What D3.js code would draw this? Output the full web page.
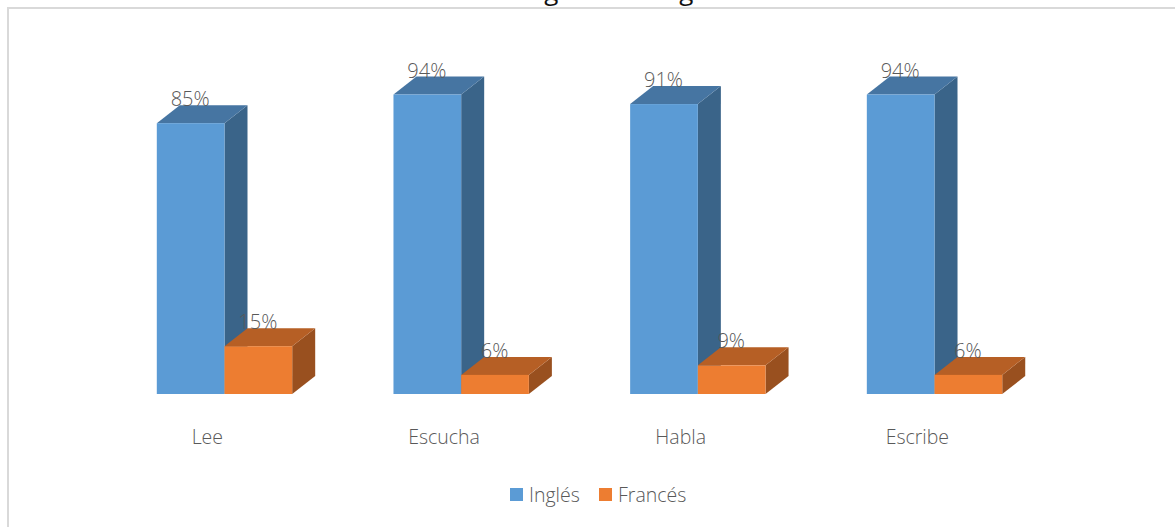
<!DOCTYPE html>
<html>
<head>
<meta charset="utf-8">
<script src="https://cdnjs.cloudflare.com/ajax/libs/d3/7.8.5/d3.min.js"></script>
<style>
  html, body { margin: 0; padding: 0; background: #fff; overflow: hidden; }
  text { font-family: "Open Sans", sans-serif; font-weight: 300; }
</style>
</head>
<body>
<svg id="chart" width="1175" height="527"></svg>
<script>
let categories = ["Lee", "Escucha", "Habla", "Escribe"];
let seriesNames = ["Inglés", "Francés"];
let ingles = [85, 94, 91, 94];
let frances = [15, 6, 9, 6];
// only the bottom of the title shows in the source, so the wording is a guess
let titleText = "Dominio general lengua";

let front = ["#5b9bd5", "#ed7d31"];
let top_ = ["#4675a2", "#b65f25"];
let side = ["#3a6489", "#99501f"];

let svg = d3.select("#chart");

// chart frame, only top and left show in the crop
svg.append("path")
  .attr("d", "M8,527V8H1175")
  .attr("fill", "none")
  .attr("stroke", "#d9d9d9")
  .attr("stroke-width", 2);

// title is cut by the top of the picture, same as the source
svg.append("text")
  .attr("x", 579)
  .attr("y", 0)
  .attr("text-anchor", "middle")
  .attr("font-size", "26px")
  .attr("fill", "#111")
  .style("font-weight", 400)
  .text(titleText);

let x = d3.scaleBand()
  .domain(categories)
  .range([120, 1066.7])
  .paddingInner(0)
  .paddingOuter(0);

let y = d3.scaleLinear()
  .domain([0, 100])
  .range([394, 75.4]);

let barW = 67.7, dx = 23, dy = 18;

let bars = [];
categories.forEach((c, i) => {
  bars.push({cat: c, s: 0, v: ingles[i]});
  bars.push({cat: c, s: 1, v: frances[i]});
});

let g = svg.append("g");

let barG = g.selectAll("g.bar")
  .data(bars)
  .enter().append("g")
  .attr("class", "bar")
  .attr("transform", d => `translate(${x(d.cat) + 36.8 + d.s * barW},0)`);

// right side of the box
barG.append("path")
  .attr("fill", d => side[d.s])
  .attr("d", d => `M${barW},${y(d.v)}l${dx},${-dy}V${y(0) - dy}l${-dx},${dy}Z`);

// top of the box
barG.append("path")
  .attr("fill", d => top_[d.s])
  .attr("d", d => `M0,${y(d.v)}l${dx},${-dy}h${barW}l${-dx},${dy}Z`);

barG.append("rect")
  .attr("x", 0)
  .attr("y", d => y(d.v))
  .attr("width", barW)
  .attr("height", d => y(0) - y(d.v))
  .attr("fill", d => front[d.s]);

// labels sit over the back edge of the top face
barG.append("text")
  .attr("x", d => barW / 2 - 0.5)
  .attr("y", d => y(d.v) - 17)
  .attr("text-anchor", "middle")
  .attr("font-size", "20px")
  .attr("fill", "#595959")
  .text(d => d.v + "%");

svg.append("g").selectAll("text")
  .data(categories)
  .enter().append("text")
  .attr("x", d => x(d) + x.bandwidth() / 2 - 31)
  .attr("y", 444)
  .attr("text-anchor", "middle")
  .attr("font-size", "19.5px")
  .attr("fill", "#595959")
  .text(d => d);

// legend
let legendX = d3.scaleOrdinal().domain(seriesNames).range([510, 599]);
let legend = svg.append("g").selectAll("g")
  .data(seriesNames)
  .enter().append("g")
  .attr("transform", d => `translate(${legendX(d)},488)`);
legend.append("rect")
  .attr("width", 13)
  .attr("height", 13)
  .attr("fill", (d, i) => front[i]);
legend.append("text")
  .attr("x", 19)
  .attr("y", 14)
  .attr("font-size", "19.5px")
  .attr("fill", "#595959")
  .text(d => d);
</script>
</body>
</html>
